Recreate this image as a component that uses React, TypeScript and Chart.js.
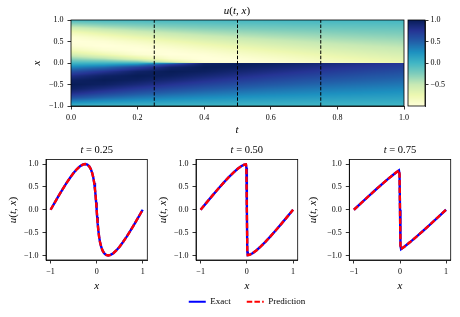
import React, { useEffect, useRef } from "react";
import { Chart, registerables } from "chart.js";
Chart.register(...registerables);

const W = 460;
const H = 317;
const FONT = "'Liberation Serif', 'Times New Roman', serif";

// ---------- heatmap data: u(t, x) ----------
const HEAT_T = [0, 0.1, 0.2, 0.3, 0.4, 0.5, 0.6, 0.7, 0.8, 0.9, 1.0];
const HEAT_X = [-1, -0.9, -0.8, -0.7, -0.6, -0.5, -0.4, -0.3, -0.2, -0.1, -0.04, -0.01, 0, 0.01, 0.04, 0.1, 0.2, 0.3, 0.4, 0.5, 0.6, 0.7, 0.8, 0.9, 1];
const HEAT_U = [
  [0, 0.309, 0.588, 0.809, 0.951, 1, 0.951, 0.809, 0.588, 0.309, 0.125, 0.031, 0, -0.031, -0.125, -0.309, -0.588, -0.809, -0.951, -1, -0.951, -0.809, -0.588, -0.309, 0],
  [0, 0.237, 0.465, 0.671, 0.839, 0.956, 1, 0.945, 0.762, 0.435, 0.18, 0.046, 0, -0.046, -0.18, -0.435, -0.762, -0.945, -1, -0.956, -0.839, -0.671, -0.465, -0.237, 0],
  [0, 0.194, 0.381, 0.558, 0.723, 0.861, 0.959, 1, 0.937, 0.67, 0.32, 0.084, 0, -0.084, -0.32, -0.67, -0.937, -1, -0.959, -0.861, -0.723, -0.558, -0.381, -0.194, 0],
  [0, 0.163, 0.321, 0.477, 0.623, 0.759, 0.876, 0.963, 1, 0.923, 0.718, 0.369, 0, -0.369, -0.718, -0.923, -1, -0.963, -0.876, -0.759, -0.623, -0.477, -0.321, -0.163, 0],
  [0, 0.14, 0.277, 0.412, 0.544, 0.668, 0.784, 0.885, 0.966, 1, 0.976, 0.935, 0, -0.935, -0.976, -1, -0.966, -0.885, -0.784, -0.668, -0.544, -0.412, -0.277, -0.14, 0],
  [0, 0.12, 0.244, 0.363, 0.481, 0.597, 0.704, 0.805, 0.893, 0.966, 0.994, 0.97, 0, -0.97, -0.994, -0.966, -0.893, -0.805, -0.704, -0.597, -0.481, -0.363, -0.244, -0.12, 0],
  [0, 0.11, 0.218, 0.324, 0.428, 0.535, 0.636, 0.73, 0.823, 0.903, 0.943, 0.962, 0, -0.962, -0.943, -0.903, -0.823, -0.73, -0.636, -0.535, -0.428, -0.324, -0.218, -0.11, 0],
  [0, 0.095, 0.197, 0.294, 0.388, 0.483, 0.576, 0.667, 0.754, 0.836, 0.88, 0.904, 0, -0.904, -0.88, -0.836, -0.754, -0.667, -0.576, -0.483, -0.388, -0.294, -0.197, -0.095, 0],
  [0, 0.09, 0.178, 0.267, 0.354, 0.441, 0.528, 0.613, 0.694, 0.772, 0.818, 0.842, 0, -0.842, -0.818, -0.772, -0.694, -0.613, -0.528, -0.441, -0.354, -0.267, -0.178, -0.09, 0],
  [0, 0.083, 0.163, 0.245, 0.325, 0.408, 0.487, 0.563, 0.642, 0.717, 0.76, 0.782, 0, -0.782, -0.76, -0.717, -0.642, -0.563, -0.487, -0.408, -0.325, -0.245, -0.163, -0.083, 0],
  [0, 0.077, 0.152, 0.227, 0.3, 0.377, 0.451, 0.522, 0.596, 0.667, 0.709, 0.731, 0, -0.731, -0.709, -0.667, -0.596, -0.522, -0.451, -0.377, -0.3, -0.227, -0.152, -0.077, 0],
];
const SLICE_TIMES = [0.25, 0.5, 0.75];
const HEAT_T_TICKS = [0, 0.2, 0.4, 0.6, 0.8, 1.0];
const HEAT_X_TICKS = [-1, -0.5, 0, 0.5, 1];
const CBAR_TICKS = [-0.5, 0, 0.5, 1.0];
const CBAR_MIN = -0.99;
const CBAR_MAX = 1.0;

// ---------- slices ----------
const X_T025 = [-1, -0.911, -0.823, -0.737, -0.653, -0.573, -0.498, -0.427, -0.362, -0.303, -0.25, -0.203, -0.162, -0.127, -0.098, -0.073, -0.053, -0.037, -0.023, -0.011, 0, 0.011, 0.023, 0.037, 0.053, 0.073, 0.098, 0.127, 0.162, 0.203, 0.25, 0.303, 0.362, 0.427, 0.498, 0.573, 0.653, 0.737, 0.823, 0.911, 1];
const U_T025 = [0, 0.156, 0.309, 0.454, 0.588, 0.707, 0.809, 0.891, 0.951, 0.988, 1, 0.988, 0.951, 0.891, 0.809, 0.707, 0.588, 0.454, 0.309, 0.156, 0, -0.156, -0.309, -0.454, -0.588, -0.707, -0.809, -0.891, -0.951, -0.988, -1, -0.988, -0.951, -0.891, -0.809, -0.707, -0.588, -0.454, -0.309, -0.156, 0];
const X_T050 = [-1, -0.872, -0.746, -0.623, -0.506, -0.396, -0.296, -0.204, -0.124, -0.056, -0.02, -0.01, 0, 0.01, 0.02, 0.056, 0.124, 0.204, 0.296, 0.396, 0.506, 0.623, 0.746, 0.872, 1];
const U_T050 = [0, 0.156, 0.309, 0.454, 0.588, 0.707, 0.809, 0.891, 0.951, 0.988, 0.994, 0.92, 0, -0.92, -0.994, -0.988, -0.951, -0.891, -0.809, -0.707, -0.588, -0.454, -0.309, -0.156, 0];
const X_T075 = [-1, -0.833, -0.668, -0.51, -0.359, -0.22, -0.093, -0.047, -0.024, -0.01, 0, 0.01, 0.024, 0.047, 0.093, 0.22, 0.359, 0.51, 0.668, 0.833, 1];
const U_T075 = [0, 0.156, 0.309, 0.454, 0.588, 0.707, 0.809, 0.844, 0.861, 0.78, 0, -0.78, -0.861, -0.844, -0.809, -0.707, -0.588, -0.454, -0.309, -0.156, 0];
const SLICE_TITLES = ["0.25", "0.50", "0.75"];
const LINE_X_TICKS = [-1, 0, 1];
const LINE_U_TICKS = [-1, -0.5, 0, 0.5, 1];
const LEGEND_LABELS = ["Exact", "Prediction"];

// ---------- colormap (YlGnBu) ----------
const YLGNBU = [
  [255, 255, 217], [237, 248, 177], [199, 233, 180], [127, 205, 187], [65, 182, 196],
  [29, 145, 192], [34, 94, 168], [37, 52, 148], [8, 29, 88],
];
function cmap(f: number): number[] {
  const v = Math.max(0, Math.min(1, f));
  const p = v * 8;
  const i = Math.min(7, Math.floor(p));
  const r = p - i;
  return YLGNBU[i].map((c, k) => c + (YLGNBU[i + 1][k] - c) * r);
}
function locate(arr: number[], v: number): [number, number] {
  if (v <= arr[0]) return [0, 0];
  for (let i = 0; i < arr.length - 1; i++) {
    if (v <= arr[i + 1]) return [i, (v - arr[i]) / (arr[i + 1] - arr[i])];
  }
  return [arr.length - 2, 1];
}

const minus = (s: string) => s.replace("-", "\u2212");
const fmt1 = (v: number) => minus(Number(v).toFixed(1));
const fmt0 = (v: number) => minus(Number(v).toFixed(0));

function axis(pos: string, min: number, max: number, ticks: number[], fmt: (v: number) => string, size: number, pad = 4) {
  return {
    type: "linear",
    position: pos,
    min,
    max,
    afterBuildTicks: (s: any) => {
      s.ticks = ticks.map((v) => ({ value: v }));
    },
    afterFit: (s: any) => {
      if (pos === "left" || pos === "right") s.width = size;
      else s.height = size;
    },
    ticks: {
      callback: (v: any) => fmt(Number(v)),
      font: { family: FONT, size: 8 },
      color: "#000",
      padding: pad,
      maxRotation: 0,
      autoSkip: false,
    },
    grid: { drawOnChartArea: false, drawTicks: true, tickLength: 3.5, tickWidth: 0.8, tickColor: "#000" },
    border: { display: true, color: "#000", width: 0.8 },
  };
}

type Run = { s: string; it?: boolean };
type Lbl = { runs: Run[]; x: number; y: number; size: number; rot?: boolean };

const labelPlugin = {
  id: "mathLabels",
  afterDraw(chart: any, _a: any, opts: any) {
    const ctx = chart.ctx;
    (opts.items || []).forEach((L: Lbl) => {
      ctx.save();
      ctx.translate(L.x, L.y);
      if (L.rot) ctx.rotate(-Math.PI / 2);
      const fonts = L.runs.map((r) => `${r.it ? "italic " : ""}${L.size}px ${FONT}`);
      const widths: number[] = [];
      let total = 0;
      L.runs.forEach((r, i) => {
        ctx.font = fonts[i];
        const w = ctx.measureText(r.s).width;
        widths.push(w);
        total += w;
      });
      let cx = -total / 2;
      ctx.fillStyle = "#000";
      ctx.textBaseline = "middle";
      ctx.textAlign = "left";
      L.runs.forEach((r, i) => {
        ctx.font = fonts[i];
        ctx.fillText(r.s, cx, 0);
        cx += widths[i];
      });
      ctx.restore();
    });
  },
};

const framePlugin = {
  id: "frame",
  afterDraw(chart: any) {
    const { ctx, chartArea: a } = chart;
    ctx.save();
    ctx.strokeStyle = "#000";
    ctx.lineWidth = 0.8;
    ctx.strokeRect(a.left, a.top, a.right - a.left, a.bottom - a.top);
    ctx.restore();
  },
};

const heatPlugin = {
  id: "heat",
  beforeDatasetsDraw(chart: any) {
    const { ctx, chartArea: a, scales } = chart;
    const x0 = Math.round(a.left), x1 = Math.round(a.right);
    const y0 = Math.round(a.top), y1 = Math.round(a.bottom);
    const w = x1 - x0, h = y1 - y0;
    const img = ctx.createImageData(w, h);
    const tLoc = [] as [number, number][];
    for (let px = 0; px < w; px++) tLoc.push(locate(HEAT_T, scales.x.getValueForPixel(x0 + px + 0.5)));
    for (let py = 0; py < h; py++) {
      const [j, fj] = locate(HEAT_X, scales.y.getValueForPixel(y0 + py + 0.5));
      for (let px = 0; px < w; px++) {
        const [i, fi] = tLoc[px];
        const a0 = HEAT_U[i][j] * (1 - fj) + HEAT_U[i][j + 1] * fj;
        const a1 = HEAT_U[i + 1][j] * (1 - fj) + HEAT_U[i + 1][j + 1] * fj;
        const u = a0 * (1 - fi) + a1 * fi;
        const c = cmap((u - CBAR_MIN) / (CBAR_MAX - CBAR_MIN));
        const k = (py * w + px) * 4;
        img.data[k] = c[0];
        img.data[k + 1] = c[1];
        img.data[k + 2] = c[2];
        img.data[k + 3] = 255;
      }
    }
    ctx.putImageData(img, x0, y0);
  },
};

const cbarPlugin = {
  id: "cbar",
  beforeDatasetsDraw(chart: any) {
    const { ctx, chartArea: a, scales } = chart;
    const y0 = Math.round(a.top), y1 = Math.round(a.bottom);
    for (let py = y0; py < y1; py++) {
      const v = scales.y.getValueForPixel(py + 0.5);
      const c = cmap((v - CBAR_MIN) / (CBAR_MAX - CBAR_MIN));
      ctx.fillStyle = `rgb(${c[0]},${c[1]},${c[2]})`;
      ctx.fillRect(a.left, py, a.right - a.left, 1);
    }
  },
};

const common = {
  responsive: false,
  animation: false,
  devicePixelRatio: 1,
  events: [],
};
const noLegend = { legend: { display: false }, tooltip: { enabled: false } };

const uLabel: Run[] = [{ s: "u", it: true }, { s: "(" }, { s: "t", it: true }, { s: ", " }, { s: "x", it: true }, { s: ")" }];

function heatConfig(): any {
  const A = { l: 71, t: 20, r: 404, b: 106 };
  return {
    type: "line",
    data: {
      datasets: SLICE_TIMES.map((t) => ({
        data: [{ x: t, y: -1 }, { x: t, y: 1 }],
        borderColor: "#000",
        borderWidth: 1,
        borderDash: [3.5, 1.7],
        pointRadius: 0,
      })),
    },
    options: {
      ...common,
      layout: { padding: { left: A.l - 30, right: W - A.r, top: A.t, bottom: H - A.b - 20 } },
      scales: {
        x: axis("bottom", 0, 1, HEAT_T_TICKS, fmt1, 20),
        y: axis("left", -1, 1, HEAT_X_TICKS, fmt1, 30),
      },
      plugins: {
        ...noLegend,
        mathLabels: {
          items: [
            { runs: uLabel, x: 237, y: 11.5, size: 11 },
            { runs: [{ s: "t", it: true }], x: 237, y: 130, size: 11 },
            { runs: [{ s: "x", it: true }], x: 37.5, y: 63, size: 11, rot: true },
          ],
        },
      },
    },
    plugins: [heatPlugin, framePlugin, labelPlugin],
  };
}

function cbarConfig(): any {
  const A = { l: 408, t: 20, r: 425, b: 106 };
  return {
    type: "line",
    data: { datasets: [] },
    options: {
      ...common,
      layout: { padding: { left: A.l, right: W - A.r - 30, top: A.t, bottom: H - A.b } },
      scales: {
        x: { type: "linear", display: false, min: 0, max: 1 },
        y: axis("right", CBAR_MIN, CBAR_MAX, CBAR_TICKS, fmt1, 30, 2),
      },
      plugins: { ...noLegend },
    },
    plugins: [cbarPlugin, framePlugin],
  };
}

function sliceConfig(xs: number[], us: number[], title: string, A: { l: number; r: number }, ylx: number): any {
  const top = 159.5, bottom = 260;
  const pts = xs.map((x, i) => ({ x, y: us[i] }));
  const cx = (A.l + A.r) / 2;
  return {
    type: "line",
    data: {
      datasets: [
        { label: LEGEND_LABELS[1], data: pts, borderColor: "#ff0000", borderWidth: 2.4, borderDash: [5.5, 2.2], pointRadius: 0, order: 0, tension: 0 },
        { label: LEGEND_LABELS[0], data: pts, borderColor: "#0000ff", borderWidth: 2.4, pointRadius: 0, order: 1, tension: 0 },
      ],
    },
    options: {
      ...common,
      layout: { padding: { left: A.l - 30, right: W - A.r, top, bottom: H - bottom - 20 } },
      scales: {
        x: axis("bottom", -1.1, 1.1, LINE_X_TICKS, fmt0, 20),
        y: axis("left", -1.1, 1.1, LINE_U_TICKS, fmt1, 30),
      },
      plugins: {
        ...noLegend,
        mathLabels: {
          items: [
            { runs: [{ s: "t", it: true }, { s: " = " + title }], x: cx, y: 150.7, size: 10.5 },
            { runs: [{ s: "x", it: true }], x: cx, y: 285.7, size: 11 },
            { runs: uLabel, x: ylx, y: 210, size: 11, rot: true },
          ],
        },
      },
    },
    plugins: [framePlugin, labelPlugin],
  };
}

function legendConfig(): any {
  return {
    type: "line",
    data: {
      datasets: [
        { label: LEGEND_LABELS[0], data: [], borderColor: "#0000ff", borderWidth: 2, backgroundColor: "rgba(0,0,0,0)" },
        { label: LEGEND_LABELS[1], data: [], borderColor: "#ff0000", borderWidth: 2, borderDash: [5.5, 2.2], backgroundColor: "rgba(0,0,0,0)" },
      ],
    },
    options: {
      ...common,
      layout: { padding: { left: 146, right: W - 348, top: 281.2, bottom: 0 } },
      scales: { x: { display: false }, y: { display: false } },
      plugins: {
        tooltip: { enabled: false },
        legend: {
          display: true,
          position: "top",
          labels: {
            usePointStyle: true,
            pointStyle: "line",
            pointStyleWidth: 17,
            boxWidth: 17,
            padding: 16,
            color: "#000",
            font: { family: FONT, size: 9 },
            generateLabels: (chart: any) =>
              (Chart.defaults.plugins.legend.labels.generateLabels as any)(chart).map((it: any) => ({
                ...it,
                pointStyle: "line",
                lineWidth: 2,
                strokeStyle: chart.data.datasets[it.datasetIndex].borderColor,
                lineDash: chart.data.datasets[it.datasetIndex].borderDash || [],
              })),
          },
        },
      },
    },
  };
}

const LEGEND_CANVAS_H = 400;

export default function App() {
  const refs = useRef<(HTMLCanvasElement | null)[]>([]);
  useEffect(() => {
    document.body.style.margin = "0";
    const cfgs = [
      heatConfig(),
      cbarConfig(),
      sliceConfig(X_T025, U_T025, SLICE_TITLES[0], { l: 46, r: 147.3 }, 13.3),
      sliceConfig(X_T050, U_T050, SLICE_TITLES[1], { l: 196, r: 297.7 }, 163.3),
      sliceConfig(X_T075, U_T075, SLICE_TITLES[2], { l: 349.3, r: 450.7 }, 313.3),
      legendConfig(),
    ];
    const charts = cfgs.map((c, i) => new Chart(refs.current[i] as HTMLCanvasElement, c));
    return () => charts.forEach((c) => c.destroy());
  }, []);
  return (
    <div style={{ position: "relative", width: W, height: H, background: "#fff", overflow: "hidden" }}>
      {[0, 1, 2, 3, 4, 5].map((i) => {
        const h = i === 5 ? LEGEND_CANVAS_H : H;
        return (
          <canvas
            key={i}
            ref={(el) => {
              refs.current[i] = el;
            }}
            width={W}
            height={h}
            style={{ position: "absolute", left: 0, top: 0, width: W, height: h }}
          />
        );
      })}
    </div>
  );
}
